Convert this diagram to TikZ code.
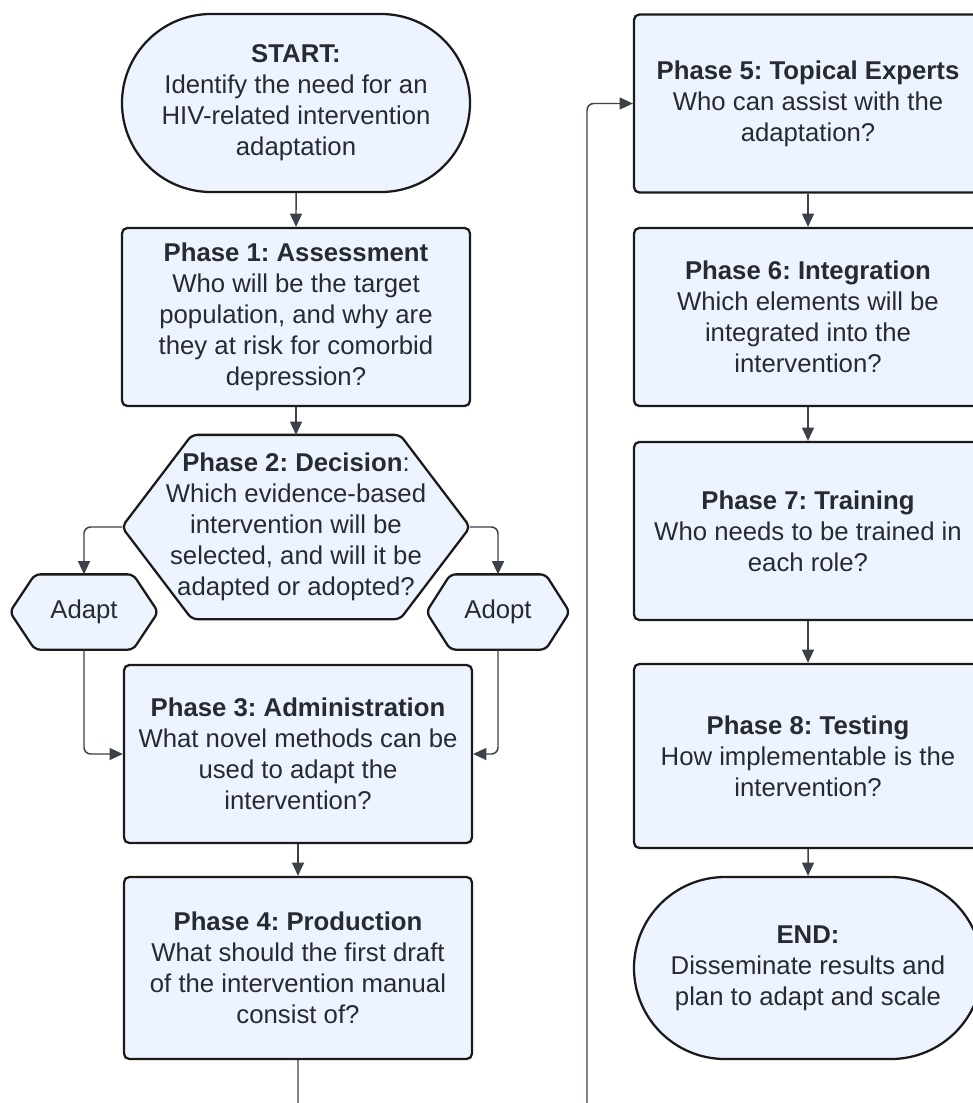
\documentclass[tikz,border=0pt]{standalone}
\usepackage{fontspec}
\setmainfont{Liberation Sans}
\usetikzlibrary{arrows.meta,shapes.misc,calc,backgrounds}
\definecolor{boxfill}{HTML}{EDF4FF}
\definecolor{boxline}{HTML}{1A1A1A}
\definecolor{flow}{HTML}{3B4049}
\definecolor{ink}{HTML}{262A31}

\newcommand\hexoutline[2]{%
  \draw[hexline] (#1.west) -- ($(#1.north west)+(#2,0)$) -- ($(#1.north east)+(-#2,0)$)
    -- (#1.east) -- ($(#1.south east)+(-#2,0)$) -- ($(#1.south west)+(#2,0)$) -- cycle;}

\tikzset{
  base/.style={draw=boxline, fill=boxfill, line width=1.7pt, text=ink, align=center,
    font=\fontsize{19.3}{23.25}\selectfont, inner sep=0pt},
  phase/.style={base, rectangle, rounded corners=4pt, minimum width=261pt, minimum height=133.5pt},
  terminal/.style={base, rounded rectangle, minimum width=261pt, minimum height=133.5pt},
  choice/.style={base, rectangle, draw=none, fill=none},
  hexline/.style={draw=boxline, fill=boxfill, line width=1.7pt, rounded corners=4pt},
  conn/.style={draw=flow, line width=1.1pt, -{Triangle[length=10pt,width=9pt]}, rounded corners=5pt}
}

\begin{document}
\frenchspacing
\begin{tikzpicture}[x=0.75pt, y=-0.75pt]
  \useasboundingbox (0,0) rectangle (973,1103);
  \clip (0,0) rectangle (973,1103);

  \node[terminal] (start) at (296,103) {\textbf{START:}\\Identify the need for an\\HIV-related intervention\\adaptation};
  \node[phase] (p1) at (296,317) {\textbf{Phase 1: Assessment}\\Who will be the target\\population, and why are\\they at risk for comorbid\\depression?};
  \node[choice, minimum width=259.5pt, minimum height=136.5pt] (p2) at (296,527)
    {\textbf{Phase 2: Decision}:\\Which evidence-based\\intervention will be\\selected, and will it be\\adapted or adopted?};
  \node[choice, minimum width=109.5pt, minimum height=54.75pt] (adapt) at (84,612) {Adapt};
  \node[choice, minimum width=105.75pt, minimum height=54.75pt] (adopt) at (498,612) {Adopt};
  \node[phase] (p3) at (298,754) {\textbf{Phase 3: Administration}\\What novel methods can be\\used to adapt the\\intervention?};
  \node[phase, minimum height=136.5pt] (p4) at (298,968) {\textbf{Phase 4: Production}\\What should the first draft\\of the intervention manual\\consist of?};

  \node[phase] (p5) at (808,103.5) {\textbf{Phase 5: Topical Experts}\\Who can assist with the\\adaptation?};
  \node[phase] (p6) at (808,317) {\textbf{Phase 6: Integration}\\Which elements will be\\integrated into the\\intervention?};
  \node[phase] (p7) at (808,531) {\textbf{Phase 7: Training}\\Who needs to be trained in\\each role?};
  \node[phase, minimum height=138pt] (p8) at (808,756) {\textbf{Phase 8: Testing}\\How implementable is the\\intervention?};
  \node[terminal, minimum height=136.5pt] (finish) at (808,968) {\textbf{END:}\\Disseminate results and\\plan to adapt and scale};

  \begin{scope}[on background layer]
    \hexoutline{p2}{70}
    \hexoutline{adapt}{25}
    \hexoutline{adopt}{24}
  \end{scope}

  \coordinate (back) at (587,1130);

  \foreach \a/\b in {start/p1,p1/p2,p3/p4,p5/p6,p6/p7,p7/p8,p8/finish}
    \draw[conn] (\a) -- (\b);
  \draw[conn] (p2.west) -| (adapt.north);
  \draw[conn] (p2.east) -| (adopt.north);
  \draw[conn] (adapt.south) |- (p3.west);
  \draw[conn] (adopt.south) |- (p3.east);
  \draw[conn] (p4.south) |- (back) |- (p5.west);
\end{tikzpicture}
\end{document}
